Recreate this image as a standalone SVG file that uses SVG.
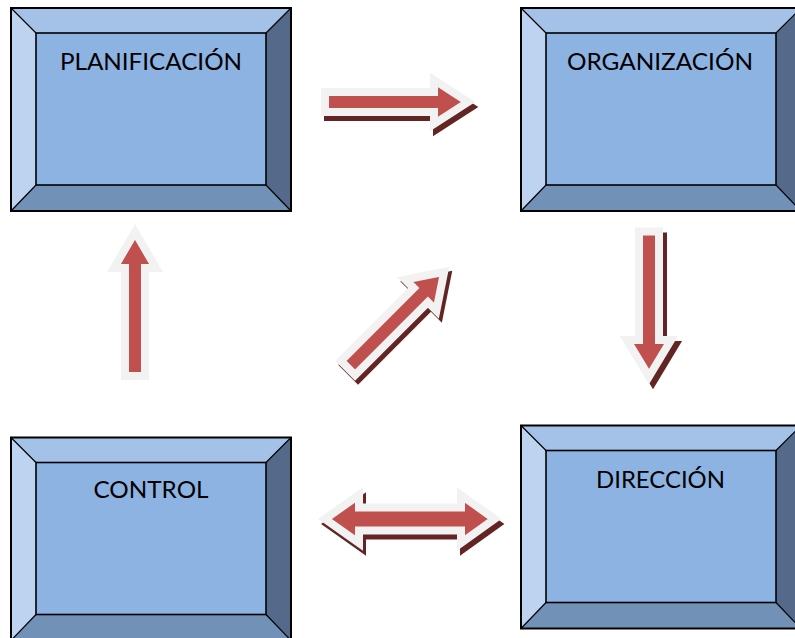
<svg xmlns="http://www.w3.org/2000/svg" xmlns:xlink="http://www.w3.org/1999/xlink" width="795" height="638" viewBox="0 0 795 638">
<style>
.top{fill:#a4c2e8}
.left{fill:#bdd3ef}
.right{fill:#556a8a}
.bottom{fill:#7191b6}
.face{fill:#8db3e2;stroke:#000;stroke-width:1.6}
.diag{stroke:#000;stroke-width:1.2;fill:none}
.frame{fill:none;stroke:#000;stroke-width:2}
.label{font-family:Lato,"Open Sans",sans-serif;font-size:24px;fill:#000;text-anchor:middle}
.arr{fill:#c0504d;stroke:#f2f2f2;stroke-width:8;stroke-linejoin:miter}
.shd{fill:#632523;stroke:#632523;stroke-width:8;stroke-linejoin:miter}
</style>
<defs>
<g id="bevel">
<polygon class="top" points="0,0 280,0 255,25 25,25"/>
<polygon class="left" points="0,0 25,25 25,177 0,203"/>
<polygon class="right" points="280,0 280,203 255,177 255,25"/>
<polygon class="bottom" points="0,203 25,177 255,177 280,203"/>
<rect class="face" x="25" y="25" width="230" height="152"/>
<path class="diag" d="M0,0 L25,25 M280,0 L255,25 M0,203 L25,177 M280,203 L255,177"/>
<rect class="frame" x="0" y="0" width="280" height="203"/>
</g>
<path id="aRight" d="M325,92 H434 V80 L468,102 L434,124 V112 H325 Z"/>
<path id="aDown" d="M639,231.5 H659 V340 H671 L649,376.5 L627,340 H639 Z"/>
<path id="aUp" d="M125,376 V268 H114 L135,232 L156,268 H145 V376 Z"/>
<path id="aDiag" d="M0,-10 H103 V-22 L136,0 L103,22 V10 H0 Z" transform="translate(348,368) rotate(-45)"/>
<path id="aBoth" d="M325,519 L359,495 V507.5 H461 V495 L494.5,519 L461,543 V530.5 H359 V543 Z"/>
</defs>
<rect width="795" height="638" fill="#fff"/>
<g id="connectors">
<use xlink:href="#aRight" class="shd" transform="translate(3,5)"/>
<use xlink:href="#aRight" class="arr"/>
<use xlink:href="#aDown" class="shd" transform="translate(4,5)"/>
<use xlink:href="#aDown" class="arr"/>
<use xlink:href="#aUp" class="arr"/>
<use xlink:href="#aDiag" class="shd" transform="translate(3,4)"/>
<use xlink:href="#aDiag" class="arr"/>
<use xlink:href="#aBoth" class="shd" transform="translate(3,5)"/>
<use xlink:href="#aBoth" class="arr"/>
</g>
<g id="planificacion">
<use xlink:href="#bevel" transform="translate(11,8)"/>
<text class="label" x="151" y="70" textLength="182" lengthAdjust="spacingAndGlyphs">PLANIFICACIÓN</text>
</g>
<g id="organizacion">
<use xlink:href="#bevel" transform="translate(521,8)"/>
<text class="label" x="660" y="70" textLength="186" lengthAdjust="spacingAndGlyphs">ORGANIZACIÓN</text>
</g>
<g id="direccion">
<use xlink:href="#bevel" transform="translate(521,425.5)"/>
<text class="label" x="660.5" y="488" textLength="129" lengthAdjust="spacingAndGlyphs">DIRECCIÓN</text>
</g>
<g id="control">
<use xlink:href="#bevel" transform="translate(11,437.5)"/>
<text class="label" x="151" y="498" textLength="115" lengthAdjust="spacingAndGlyphs">CONTROL</text>
</g>
</svg>
